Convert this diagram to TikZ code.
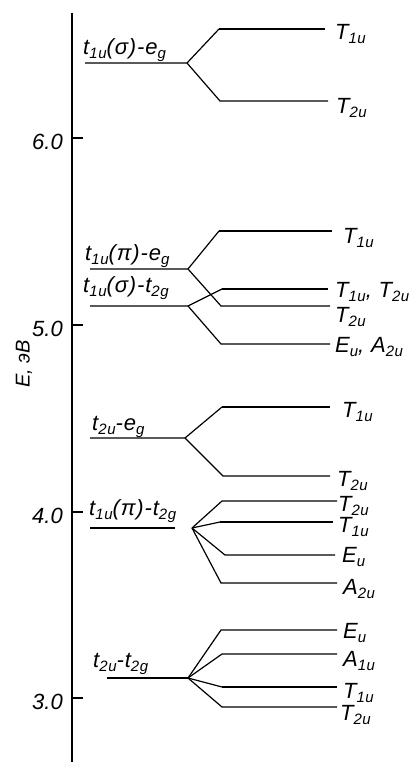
\documentclass[tikz,border=0pt]{standalone}
\usepackage{fontspec}
\setmainfont{Liberation Sans}
\newcommand\Sb[1]{\raisebox{-4pt}{\fontsize{15}{15}\selectfont #1}}
\begin{document}
\begin{tikzpicture}[x=1pt,y=-1pt,
  lvl/.style={line width=1.2pt, line join=miter},
  thk/.style={line width=2.6pt},
  llab/.style={font=\fontsize{22}{22}\selectfont\itshape\addfontfeature{LetterSpace=4}, inner sep=0pt, anchor=base west},
  rlab/.style={font=\fontsize{22}{22}\selectfont\itshape\addfontfeature{LetterSpace=3}, inner sep=0pt, anchor=west},
  tlab/.style={font=\fontsize{22}{22}\selectfont\itshape, inner sep=0pt, anchor=east}]
\useasboundingbox (0,0) rectangle (416,762);
% axis
\coordinate (ax0) at (72,13);
\coordinate (ax1) at (72,762);
\draw[lvl] (ax0) -- (ax1);
\foreach \yy/\lb/\nm in {138/6.0/t6, 325/5.0/t5, 512/4.0/t4, 698/3.0/t3}{
  \coordinate (\nm a) at (72,\yy);
  \coordinate (\nm b) at (83,\yy);
  \draw[lvl] (\nm a) -- (\nm b);
  \node[tlab] (\nm l) at (63,\yy+4) {\lb};
}
\node[font=\fontsize{20}{20}\selectfont\itshape, rotate=90, inner sep=0pt] (elab) at (24,364) {E, эВ};

% group 1
\coordinate (a0) at (85,63); \coordinate (ab) at (187,63);
\coordinate (a1s) at (219,29); \coordinate (a1e) at (325,29);
\coordinate (a2s) at (220,101); \coordinate (a2e) at (328,101);
\draw[lvl] (a0) -- (ab) -- (a2s) -- (a2e);
\draw[lvl] (ab) -- (a1s);
\draw[thk] (a1s) -- (a1e);
\node[llab] (la) at (83,55) {t\Sb{1u}(σ)-e\Sb{g}};
\node[rlab] (ra1) at (335,34) {T\Sb{1u}};
\node[rlab] (ra2) at (336,108) {T\Sb{2u}};

% group 2
\coordinate (b0) at (90,269); \coordinate (bb) at (188,269);
\coordinate (b1s) at (219,231); \coordinate (b1e) at (332,231);
\coordinate (b2s) at (221,306); \coordinate (b2e) at (330,306);
\draw[lvl] (b0) -- (bb) -- (b2s) -- (b2e);
\draw[lvl] (bb) -- (b1s);
\draw[thk] (b1s) -- (b1e);
\node[llab] (lb) at (85,260) {t\Sb{1u}(π)-e\Sb{g}};
\node[rlab] (rb1) at (343,238) {T\Sb{1u}};
\node[rlab] (rb2) at (335,317) {T\Sb{2u}};

\coordinate (c0) at (90,306); \coordinate (cb) at (188,306);
\coordinate (c1s) at (222,289); \coordinate (c1e) at (328,289);
\coordinate (c2s) at (221,344); \coordinate (c2e) at (330,344);
\draw[lvl] (c0) -- (cb) -- (c2s) -- (c2e);
\draw[lvl] (cb) -- (c1s);
\draw[thk] (c1s) -- (c1e);
\node[llab] (lc) at (83,292) {t\Sb{1u}(σ)-t\Sb{2g}};
\node[rlab] (rc1) at (335,292) {T\Sb{1u}, T\Sb{2u}};
\node[rlab] (rc2) at (335,347) {E\Sb{u}, A\Sb{2u}};

% group 3
\coordinate (d0) at (90,438); \coordinate (db) at (185,438);
\coordinate (d1s) at (222,407); \coordinate (d1e) at (330,407);
\coordinate (d2s) at (223,476); \coordinate (d2e) at (330,476);
\draw[lvl] (d0) -- (db) -- (d2s) -- (d2e);
\draw[lvl] (db) -- (d1s);
\draw[thk] (d1s) -- (d1e);
\node[llab] (ld) at (92,430) {t\Sb{2u}-e\Sb{g}};
\node[rlab] (rd1) at (342,412) {T\Sb{1u}};
\node[rlab] (rd2) at (337,481) {T\Sb{2u}};

% group 4
\coordinate (e0) at (90,528); \coordinate (e0e) at (175,528);
\coordinate (eb) at (192,528);
\coordinate (e1s) at (222,501); \coordinate (e1e) at (337,501);
\coordinate (e2s) at (220,522); \coordinate (e2e) at (333,522);
\coordinate (e3s) at (225,555); \coordinate (e3e) at (335,555);
\coordinate (e4s) at (221,583); \coordinate (e4e) at (337,583);
\draw[lvl] (e0) -- (e0e);
\draw[lvl] (eb) -- (e1s) -- (e1e);
\draw[lvl] (eb) -- (e2s);
\draw[thk] (e2s) -- (e2e);
\draw[lvl] (eb) -- (e3s) -- (e3e);
\draw[lvl] (eb) -- (e4s) -- (e4e);
\node[llab] (le) at (89,515) {t\Sb{1u}(π)-t\Sb{2g}};
\node[rlab] (re1) at (338,506) {T\Sb{2u}};
\node[rlab] (re2) at (338,527) {T\Sb{1u}};
\node[rlab] (re3) at (342,557) {E\Sb{u}};
\node[rlab] (re4) at (343,589) {A\Sb{2u}};

% group 5
\coordinate (f0) at (107,678); \coordinate (fb) at (188,678);
\coordinate (f1s) at (221,630); \coordinate (f1e) at (337,630);
\coordinate (f2s) at (222,654); \coordinate (f2e) at (337,654);
\coordinate (f3s) at (222,687); \coordinate (f3e) at (337,687);
\coordinate (f4s) at (222,707); \coordinate (f4e) at (337,707);
\draw[lvl] (f0) -- (fb);
\draw[lvl] (fb) -- (f1s) -- (f1e);
\draw[lvl] (fb) -- (f2s) -- (f2e);
\draw[lvl] (fb) -- (f3s);
\draw[thk] (f3s) -- (f3e);
\draw[lvl] (fb) -- (f4s) -- (f4e);
\node[llab] (lf) at (93,667) {t\Sb{2u}-t\Sb{2g}};
\node[rlab] (rf1) at (343,633) {E\Sb{u}};
\node[rlab] (rf2) at (343,661) {A\Sb{1u}};
\node[rlab] (rf3) at (343,693) {T\Sb{1u}};
\node[rlab] (rf4) at (340,715) {T\Sb{2u}};
\end{tikzpicture}
\end{document}
